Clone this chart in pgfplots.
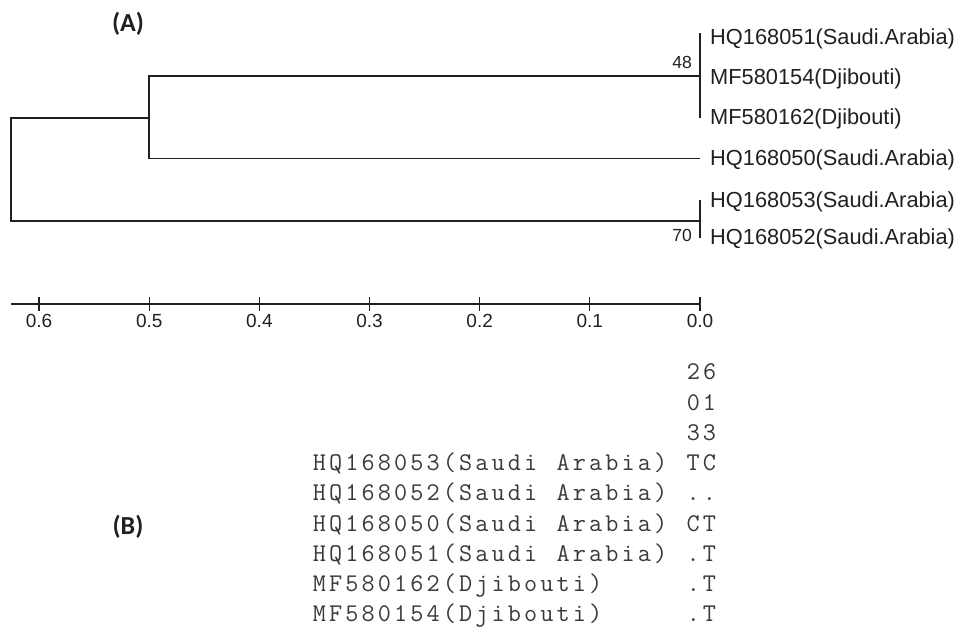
\documentclass[border=0pt]{standalone}
\usepackage{fontspec}
\setmainfont{Liberation Sans}
\newfontfamily\labfont{Carlito}
\usepackage{pgfplots}
\pgfplotsset{compat=1.18}
\definecolor{ink}{HTML}{231F20}
\definecolor{monoink}{HTML}{3A3A3A}

\def\cw{16.26pt}
\def\mono#1{\monoloop#1\relax}
\def\monoloop#1{\ifx#1\relax\else\makebox[\cw][c]{#1}\expandafter\monoloop\fi}

\begin{document}
\begin{tikzpicture}
\begin{axis}[
  scale only axis, width=689pt, height=304pt,
  x dir=reverse, xmin=0, xmax=0.6255, ymin=-304, ymax=0,
  axis x line*=bottom, axis y line=none,
  ytick=\empty,
  clip=false,
  xtick={0,0.1,0.2,0.3,0.4,0.5,0.6},
  major tick length=14pt, tick align=center,
  x axis line style={line width=1.9pt, color=ink, -},
  every tick/.style={line width=1.2pt, color=ink},
  xticklabel style={font=\fontsize{19}{19}\selectfont, text=ink},
  /pgf/number format/fixed, /pgf/number format/fixed zerofill,
  /pgf/number format/precision=1, /pgf/number format/assume math mode=true,
  tree/.style={line width=1.8pt, color=ink, line join=miter, no markers},
]
% tree branches (x = distance, y = -pixel row)
\addplot[tree] coordinates {(0,-158.5) (0.5,-158.5) (0.5,-76) (0,-76)};
\addplot[tree] coordinates {(0.5,-118) (0.6255,-118) (0.6255,-221) (0,-221)};
\addplot[tree] coordinates {(0,-33) (0,-118)};
\addplot[tree] coordinates {(0,-200) (0,-238)};
\end{axis}
\coordinate (O) at ([xshift=-11pt]current axis.north west);
\begin{scope}[shift={(O)}, x=1pt, y=-1pt]
  \begin{scope}[every node/.style={inner sep=0pt, text=ink, font=\fontsize{21.8}{21.8}\selectfont}]
    \node[anchor=base west] at (710,44.8) {HQ168051(Saudi.Arabia)};
    \node[anchor=base west] at (710,84.8) {MF580154(Djibouti)};
    \node[anchor=base west] at (710,124.8) {MF580162(Djibouti)};
    \node[anchor=base west] at (710,165.8) {HQ168050(Saudi.Arabia)};
    \node[anchor=base west] at (710,207.8) {HQ168053(Saudi.Arabia)};
    \node[anchor=base west] at (710,244.8) {HQ168052(Saudi.Arabia)};
  \end{scope}
  \begin{scope}[every node/.style={inner sep=0pt, text=ink, font=\fontsize{17.5}{17.5}\selectfont}]
    \node[anchor=base east] at (692,68.3) {48};
    \node[anchor=base east] at (692,241) {70};
  \end{scope}
  \node[inner sep=0pt, text=ink, font=\fontsize{26}{26}\selectfont\labfont\bfseries] at (128,24) {(A)};
  \node[inner sep=0pt, text=ink, font=\fontsize{26}{26}\selectfont\labfont\bfseries] at (128,527) {(B)};
  \begin{scope}[every node/.style={inner sep=0pt, anchor=base west, text=monoink, font=\fontsize{25.5}{25.5}\selectfont\ttfamily\addfontfeatures{FakeStretch=1.3}}]
    \node at (311,379.8) {\mono{~~~~~~~~~~~~~~~~~~~~~~~26}};
    \node at (311,410.05) {\mono{~~~~~~~~~~~~~~~~~~~~~~~01}};
    \node at (311,440.3) {\mono{~~~~~~~~~~~~~~~~~~~~~~~33}};
    \node at (311,470.55) {\mono{HQ168053(Saudi~Arabia)~TC}};
    \node at (311,500.8) {\mono{HQ168052(Saudi~Arabia)~..}};
    \node at (311,531.05) {\mono{HQ168050(Saudi~Arabia)~CT}};
    \node at (311,561.3) {\mono{HQ168051(Saudi~Arabia)~.T}};
    \node at (311,591.55) {\mono{MF580162(Djibouti)~~~~~.T}};
    \node at (311,621.3) {\mono{MF580154(Djibouti)~~~~~.T}};
  \end{scope}
\end{scope}
\pgfresetboundingbox
\path[use as bounding box] (O) rectangle ++(957pt,-627pt);
\end{tikzpicture}
\end{document}
